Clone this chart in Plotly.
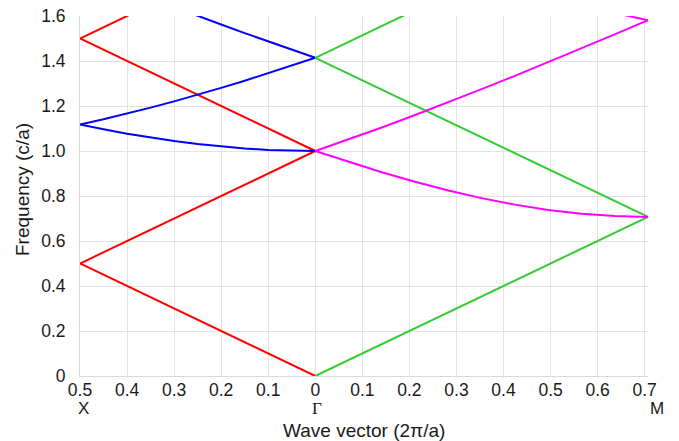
import plotly.graph_objects as go

# Positions: X-Gamma branch plotted at negative x (|k| shown as tick label), Gamma-M at positive x
# ---- Gamma -> X branch (k along x, 0..0.5) ----
k_line = [0.0, 0.5]
red_g0 = [0.0, 0.5]
red_gm1 = [1.0, 0.5]
red_gp1 = [1.0, 1.5]
red_gm2 = [2.0, 1.5]

k_curve = [0.0, 0.05, 0.10, 0.15, 0.20, 0.25, 0.30, 0.35, 0.40, 0.45, 0.50]
blue_low = [1.0, 1.00125, 1.00499, 1.01119, 1.01980, 1.03078, 1.04403, 1.05948, 1.07703, 1.09659, 1.11803]
blue_mid = [1.41421, 1.37931, 1.34536, 1.31244, 1.28062, 1.25, 1.22066, 1.19269, 1.16619, 1.14127, 1.11803]
k_top = [0.0, 0.05, 0.10, 0.15, 0.20, 0.25, 0.30]
blue_top = [1.41421, 1.45, 1.48661, 1.52398, 1.56205, 1.60078, 1.64012]

# ---- Gamma -> M branch (|k| 0..0.7071) ----
s_line = [0.0, 0.70711]
green_g0 = [0.0, 0.70711]
green_gm = [1.41421, 0.70711]
green_gp = [1.41421, 2.12132]

s_curve = [0.0, 0.07071, 0.14142, 0.21213, 0.28284, 0.35355, 0.42426, 0.49497, 0.56569, 0.63640, 0.70711]
mag_low = [1.0, 0.95131, 0.90554, 0.86313, 0.82462, 0.79057, 0.76158, 0.73824, 0.72111, 0.71063, 0.70711]
mag_up = [1.0, 1.05119, 1.10454, 1.15974, 1.21655, 1.27475, 1.33417, 1.39463, 1.45602, 1.51822, 1.58114]
s_hook = [0.63640, 0.67175, 0.70711]
mag_hook = [1.61400, 1.59726, 1.58114]

tick_vals = [-0.5, -0.4, -0.3, -0.2, -0.1, 0, 0.1, 0.2, 0.3, 0.4, 0.5, 0.6, 0.7]
tick_text = ["0.5", "0.4", "0.3", "0.2", "0.1", "0", "0.1", "0.2", "0.3", "0.4", "0.5", "0.6", "0.7"]
y_ticks = [0, 0.2, 0.4, 0.6, 0.8, 1.0, 1.2, 1.4, 1.6]
y_text = ["0", "0.2", "0.4", "0.6", "0.8", "1.0", "1.2", "1.4", "1.6"]

RED, BLUE, GREEN, MAG = "#ff0000", "#0000ff", "#33cc33", "#ff00ff"

fig = go.Figure()

def add(xs, ys, color, neg=False):
    fig.add_trace(go.Scatter(x=[-v for v in xs] if neg else xs, y=ys, mode="lines",
                             line=dict(color=color, width=2), showlegend=False, hoverinfo="skip"))

add(k_line, red_g0, RED, True)
add(k_line, red_gm1, RED, True)
add(k_line, red_gp1, RED, True)
add(k_line, red_gm2, RED, True)
add(k_curve, blue_low, BLUE, True)
add(k_curve, blue_mid, BLUE, True)
add(k_top, blue_top, BLUE, True)
add(s_line, green_g0, GREEN)
add(s_line, green_gm, GREEN)
add(s_line, green_gp, GREEN)
add(s_curve, mag_low, MAG)
add(s_curve, mag_up, MAG)
add(s_hook, mag_hook, MAG)

FAM = "Liberation Sans, Arial, sans-serif"
tfont = dict(family=FAM, size=17.5, color="#1a1a1a")
lfont = dict(family=FAM, size=17, color="#1a1a1a")
afont = dict(family=FAM, size=19, color="#1a1a1a")
grid = "#e3e3e3"

fig.update_layout(
    width=679, height=441,
    margin=dict(l=80, r=31, t=16, b=65, autoexpand=False),
    paper_bgcolor="white", plot_bgcolor="white",
    font=tfont,
    xaxis=dict(range=[-0.5, 0.70711], tickvals=tick_vals, ticktext=tick_text,
               showgrid=True, gridcolor=grid, gridwidth=1, zeroline=False,
               showline=True, linecolor="#d9d9d9", linewidth=1,
               ticks="", ticklabelstandoff=-2, tickfont=tfont),
    yaxis=dict(range=[0, 1.6], tickvals=y_ticks, ticktext=y_text,
               showgrid=True, gridcolor=grid, gridwidth=1, zeroline=False,
               showline=True, linecolor="#d9d9d9", linewidth=1,
               ticks="", ticklabelstandoff=10, ticklabeloverflow="allow", tickfont=tfont),
)

ann = [
    dict(x=-0.5, y=0, xref="x", yref="paper", text="X", showarrow=False, xshift=3, yshift=-32,
         xanchor="center", yanchor="middle", font=lfont),
    dict(x=0, y=0, xref="x", yref="paper", text="Γ", showarrow=False, xshift=2, yshift=-32,
         xanchor="center", yanchor="middle",
         font=dict(family="Liberation Serif, Times New Roman, serif", size=17, color="#1a1a1a")),
    dict(x=0.70711, y=0, xref="x", yref="paper", text="M", showarrow=False, xshift=9, yshift=-32,
         xanchor="center", yanchor="middle", font=lfont),
    dict(x=0.5, y=0, xref="paper", yref="paper", text="Wave vector (2π/a)", showarrow=False, yshift=-54,
         xanchor="center", yanchor="middle", font=afont),
    dict(x=0, y=0.5, xref="paper", yref="paper", text="Frequency (c/a)", showarrow=False, textangle=-90,
         xshift=-58, yshift=6, xanchor="center", yanchor="middle", font=afont),
]
fig.update_layout(annotations=ann)

fig.write_html("out.html", config={"displayModeBar": False},
               post_script="document.body.style.margin='0';")
